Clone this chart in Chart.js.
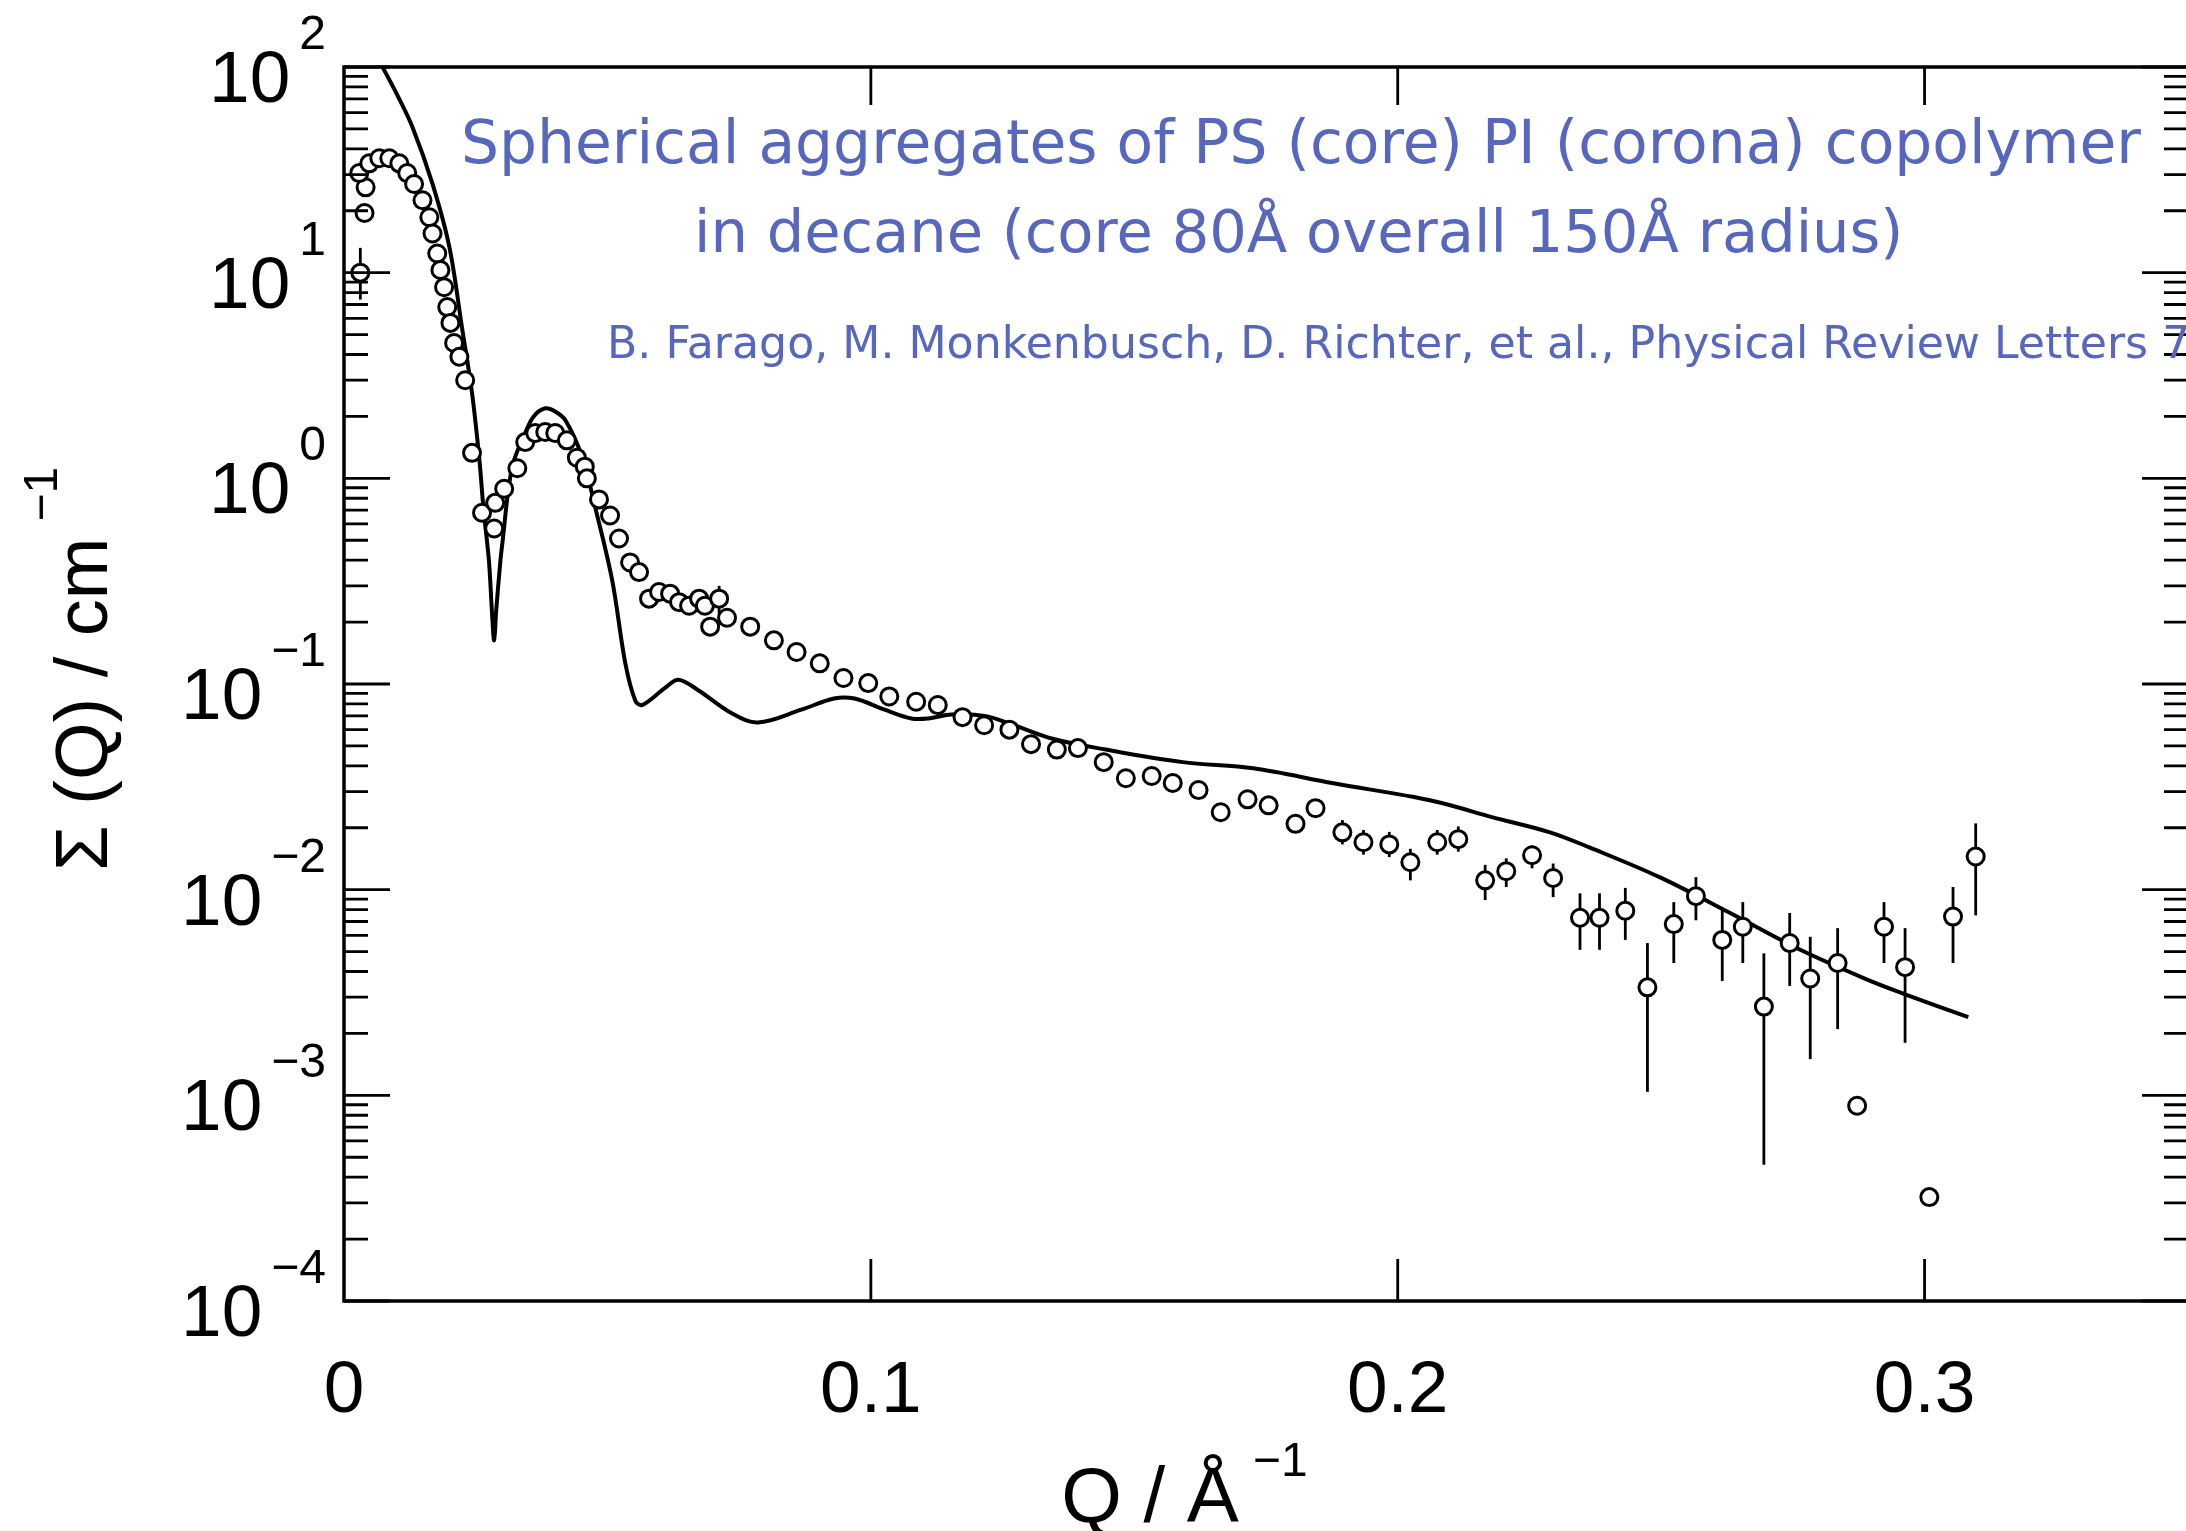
<!DOCTYPE html>
<html>
<head>
<meta charset="utf-8">
<script src="https://cdn.jsdelivr.net/npm/chart.js@4.4.1/dist/chart.umd.min.js"></script>
<style>
  html, body { margin: 0; padding: 0; background: #fff; overflow: hidden; }
  #wrap { width: 2200px; height: 1531px; }
</style>
</head>
<body>
<div id="wrap"><canvas id="chart" width="2200" height="1531"></canvas></div>
<script>
// ── Data ─────────────────────────────────────────────────────────────────────

// model curve (solid line)
const modelQ = [0.0030, 0.0073, 0.0100, 0.0130, 0.0168, 0.0200, 0.0224, 0.0243, 0.0257, 0.0265,
  0.0275, 0.0281, 0.0285, 0.0289, 0.0297, 0.0300, 0.0319, 0.0344, 0.0360, 0.0382, 0.0400, 0.0420,
  0.0452, 0.0477, 0.0509, 0.0534, 0.0553, 0.0566, 0.0610, 0.0635, 0.0673, 0.0736, 0.0786, 0.0868,
  0.0930, 0.0969, 0.1026, 0.1077, 0.1109, 0.1153, 0.1216, 0.1265, 0.1347, 0.1446, 0.1592, 0.1726,
  0.1878, 0.2031, 0.2098, 0.2177, 0.2289, 0.2365, 0.2497, 0.2631, 0.2764, 0.2897, 0.2963, 0.3083]
const modelI = [158, 100, 74, 51, 27, 13.3, 5.4, 2.6, 1.23, 0.70,
  0.40, 0.22, 0.163, 0.23, 0.40, 0.47, 1.13, 1.66, 2.0, 2.19, 2.12, 1.92,
  1.27, 0.72, 0.32, 0.126, 0.083, 0.079, 0.096, 0.105, 0.093, 0.072, 0.065, 0.075,
  0.085, 0.085, 0.075, 0.068, 0.068, 0.071, 0.070, 0.064, 0.054, 0.048, 0.0417, 0.0389,
  0.0329, 0.0282, 0.0258, 0.0226, 0.0190, 0.0160, 0.0115, 0.0077, 0.0051, 0.0036, 0.0031, 0.0024]

// measured points (open circles)
const dataQ = [0.0031, 0.0039, 0.0041, 0.0029, 0.0048, 0.0067, 0.0086, 0.0105, 0.0120, 0.0133,
  0.0149, 0.0162, 0.0168, 0.0177, 0.0183, 0.0190, 0.0196, 0.0202, 0.0209, 0.0219,
  0.0230, 0.0243, 0.0262, 0.0285, 0.0287, 0.0304, 0.0329, 0.0344, 0.0363, 0.0382,
  0.0401, 0.0423, 0.0442, 0.0457, 0.0461, 0.0484, 0.0505, 0.0522, 0.0543, 0.0560,
  0.0579, 0.0598, 0.0619, 0.0636, 0.0655, 0.0674, 0.0685, 0.0695, 0.0712, 0.0727,
  0.0771, 0.0816, 0.0859, 0.0903, 0.0948, 0.0995, 0.1035, 0.1086, 0.1127, 0.1174,
  0.1215, 0.1263, 0.1304, 0.1353, 0.1393, 0.1442, 0.1484, 0.1533, 0.1573, 0.1622,
  0.1664, 0.1715, 0.1755, 0.1806, 0.1844, 0.1895, 0.1935, 0.1984, 0.2024, 0.2075,
  0.2115, 0.2166, 0.2206, 0.2255, 0.2295, 0.2346, 0.2383, 0.2432, 0.2474, 0.2524,
  0.2566, 0.2616, 0.2655, 0.2695, 0.2744, 0.2783, 0.2835, 0.2872, 0.2923, 0.2963,
  0.3009, 0.3054, 0.3097]
const dataI = [10.0, 19.5, 26, 30.5, 34, 36, 36, 34, 30.5, 27,
  22.5, 18.6, 15.5, 12.4, 10.3, 8.5, 6.8, 5.7, 4.55, 3.9,
  3.0, 1.33, 0.68, 0.57, 0.76, 0.89, 1.12, 1.5, 1.66, 1.68,
  1.66, 1.53, 1.26, 1.14, 1.0, 0.79, 0.66, 0.51, 0.39, 0.35,
  0.26, 0.28, 0.275, 0.25, 0.24, 0.26, 0.24, 0.19, 0.26, 0.21,
  0.19, 0.163, 0.143, 0.126, 0.107, 0.101, 0.087, 0.082, 0.079, 0.069,
  0.063, 0.060, 0.051, 0.048, 0.0488, 0.0417, 0.0348, 0.0357, 0.033, 0.0305,
  0.0238, 0.0275, 0.0257, 0.0209, 0.0249, 0.019, 0.017, 0.0166, 0.0136, 0.017,
  0.0176, 0.0111, 0.0123, 0.0147, 0.0114, 0.0073, 0.0073, 0.0079, 0.00335, 0.0068,
  0.0093, 0.0057, 0.0066, 0.0027, 0.0055, 0.0037, 0.0044, 0.00089, 0.0066, 0.0042,
  0.00032, 0.0074, 0.0145]

// vertical error bars
const errQ = [0.0031, 0.0712, 0.1895, 0.1935, 0.1984, 0.2024, 0.2075, 0.2115, 0.2166, 0.2206,
  0.2255, 0.2295, 0.2346, 0.2383, 0.2432, 0.2474, 0.2524, 0.2566, 0.2616, 0.2655,
  0.2695, 0.2744, 0.2783, 0.2835, 0.2923, 0.2963, 0.3054, 0.3097]
const errLow = [7.4, 0.22, 0.0166, 0.0148, 0.0144, 0.0111, 0.0148, 0.0153, 0.0089, 0.0103,
  0.0127, 0.0092, 0.0051, 0.0051, 0.0057, 0.00104, 0.0044, 0.0071, 0.0036, 0.0044,
  0.00046, 0.0034, 0.0015, 0.0021, 0.0044, 0.0018, 0.0044, 0.0075]
const errHigh = [13.2, 0.30, 0.0218, 0.0195, 0.0191, 0.0158, 0.0195, 0.0203, 0.0132, 0.0142,
  0.0164, 0.0134, 0.0096, 0.0096, 0.0102, 0.0055, 0.0087, 0.0115, 0.0081, 0.0087,
  0.0049, 0.0077, 0.0059, 0.0065, 0.0087, 0.0065, 0.0103, 0.021]

// axes
const xTicks = [0, 0.1, 0.2, 0.3]
const xTickLabels = ['0', '0.1', '0.2', '0.3']
const yMajorExp = [-4, -3, -2, -1, 0, 1, 2]
const yMinorMult = [2, 3, 4, 5, 6, 7, 8, 9]

const titleLines = [
  'Spherical aggregates of PS (core) PI (corona) copolymer',
  'in decane (core 80\u00c5 overall 150\u00c5 radius)'
]
const citation = 'B. Farago, M. Monkenbusch, D. Richter, et al., Physical Review Letters 71, 1015 (1993)'

const SANS = '"Liberation Sans", Arial, Helvetica, sans-serif'
const NOTE_FONT = '"Comic Sans MS", "DejaVu Sans", sans-serif'
const NOTE_COLOR = '#5767bd'

// ── Helpers ───────────────────────────────────────────────────────────────────

function fitFont(ctx, text, family, width) {
  ctx.font = `100px ${family}`
  const w = ctx.measureText(text).width
  return `${(100 * width / w).toFixed(1)}px ${family}`
}

function drawYLabels(ctx, yScale, left) {
  ctx.fillStyle = '#000'
  ctx.textBaseline = 'alphabetic'
  ctx.textAlign = 'right'
  for (const e of yMajorExp) {
    const y = yScale.getPixelForValue(Math.pow(10, e))
    const sup = e < 0 ? '\u2212' + (-e) : String(e)
    ctx.font = `48px ${SANS}`
    const supW = ctx.measureText(sup).width
    const supRight = left - 18
    ctx.fillText(sup, supRight, y - 18)
    ctx.font = `73px ${SANS}`
    ctx.fillText('10', supRight - supW - 9, y + 35)
  }
}

// frame, inward ticks, error bars and all text
const decor = {
  id: 'decor',
  beforeDraw(chart) {
    const ctx = chart.ctx
    ctx.save()
    ctx.fillStyle = '#fff'
    ctx.fillRect(0, 0, chart.width, chart.height)
    ctx.restore()
  },
  beforeDatasetsDraw(chart) {
    const { ctx, scales: { x, y } } = chart
    ctx.save()
    ctx.strokeStyle = '#000'
    ctx.lineWidth = 2.8
    errQ.forEach((q, i) => {
      const px = x.getPixelForValue(q)
      ctx.beginPath()
      ctx.moveTo(px, y.getPixelForValue(errLow[i]))
      ctx.lineTo(px, y.getPixelForValue(errHigh[i]))
      ctx.stroke()
    })
    ctx.restore()
  },
  afterDatasetsDraw(chart) {
    const { ctx, chartArea: a, scales: { x, y } } = chart
    ctx.save()
    ctx.strokeStyle = '#000'
    ctx.lineWidth = 3.5
    ctx.strokeRect(a.left, a.top, a.right - a.left, a.bottom - a.top)

    ctx.lineWidth = 2.8
    ctx.beginPath()
    for (const e of yMajorExp) {
      const py = y.getPixelForValue(Math.pow(10, e))
      ctx.moveTo(a.left, py); ctx.lineTo(a.left + 46, py)
      ctx.moveTo(a.right, py); ctx.lineTo(a.right - 46, py)
      if (e === yMajorExp[yMajorExp.length - 1]) continue
      for (const m of yMinorMult) {
        const pm = y.getPixelForValue(m * Math.pow(10, e))
        ctx.moveTo(a.left, pm); ctx.lineTo(a.left + 24, pm)
        ctx.moveTo(a.right, pm); ctx.lineTo(a.right - 24, pm)
      }
    }
    for (const t of xTicks) {
      if (t === 0) continue
      const px = x.getPixelForValue(t)
      ctx.moveTo(px, a.bottom); ctx.lineTo(px, a.bottom - 42)
      ctx.moveTo(px, a.top); ctx.lineTo(px, a.top + 38)
    }
    ctx.stroke()
    ctx.restore()
  },
  afterDraw(chart) {
    const { ctx, chartArea: a, scales: { x, y } } = chart
    ctx.save()

    // tick labels
    drawYLabels(ctx, y, a.left)
    ctx.font = `73px ${SANS}`
    ctx.textAlign = 'center'
    ctx.textBaseline = 'alphabetic'
    xTicks.forEach((t, i) => ctx.fillText(xTickLabels[i], x.getPixelForValue(t), a.bottom + 111))

    // x title: Q / Å^-1
    ctx.font = `78px ${SANS}`
    ctx.textAlign = 'left'
    const xt = 'Q / \u00c5'
    const xtW = ctx.measureText(xt).width
    const xtLeft = 1150 - xtW / 2
    ctx.fillText(xt, xtLeft, 1522)
    ctx.font = `48px ${SANS}`
    ctx.fillText('\u22121', xtLeft + xtW + 14, 1476)

    // y title: Σ (Q) / cm^-1, rotated
    ctx.save()
    ctx.translate(107, 871)
    ctx.rotate(-Math.PI / 2)
    ctx.font = `74px ${SANS}`
    const yt = '\u03a3 (Q) / cm'
    const ytW = ctx.measureText(yt).width
    ctx.fillText(yt, 0, 0)
    ctx.font = `48px ${SANS}`
    ctx.fillText('\u22121', ytW + 16, -50)
    ctx.restore()

    // blue annotation
    ctx.fillStyle = NOTE_COLOR
    ctx.textAlign = 'left'
    ctx.font = fitFont(ctx, titleLines[0], NOTE_FONT, 1680)
    ctx.fillText(titleLines[0], 461, 163)
    ctx.font = fitFont(ctx, titleLines[1], NOTE_FONT, 1209)
    ctx.fillText(titleLines[1], 694, 252)
    ctx.font = fitFont(ctx, 'B. Farago, M. Monkenbusch, D. Richter, et al., Physical Review Letters', NOTE_FONT, 1543)
    ctx.fillText(citation, 607, 358)

    ctx.restore()
  }
}

// ── Chart ─────────────────────────────────────────────────────────────────────

const ctx = document.getElementById('chart').getContext('2d')

new Chart(ctx, {
  type: 'scatter',
  data: {
    datasets: [
      {
        label: 'data',
        data: dataQ.map((q, i) => ({ x: q, y: dataI[i] })),
        pointRadius: 8.5,
        pointBackgroundColor: '#fff',
        pointBorderColor: '#000',
        pointBorderWidth: 3,
        order: 0
      },
      {
        type: 'line',
        label: 'model',
        data: modelQ.map((q, i) => ({ x: q, y: modelI[i] })),
        borderColor: '#000',
        borderWidth: 4,
        pointRadius: 0,
        tension: 0.35,
        fill: false,
        order: 1
      }
    ]
  },
  options: {
    responsive: false,
    animation: false,
    devicePixelRatio: 1,
    layout: { padding: { left: 344, top: 67, right: 12, bottom: 230 } },
    plugins: { legend: { display: false }, tooltip: { enabled: false } },
    scales: {
      x: { type: 'linear', min: 0, max: 0.35, display: false },
      y: { type: 'logarithmic', min: 1e-4, max: 100, display: false }
    }
  },
  plugins: [decor]
})
</script>
</body>
</html>
